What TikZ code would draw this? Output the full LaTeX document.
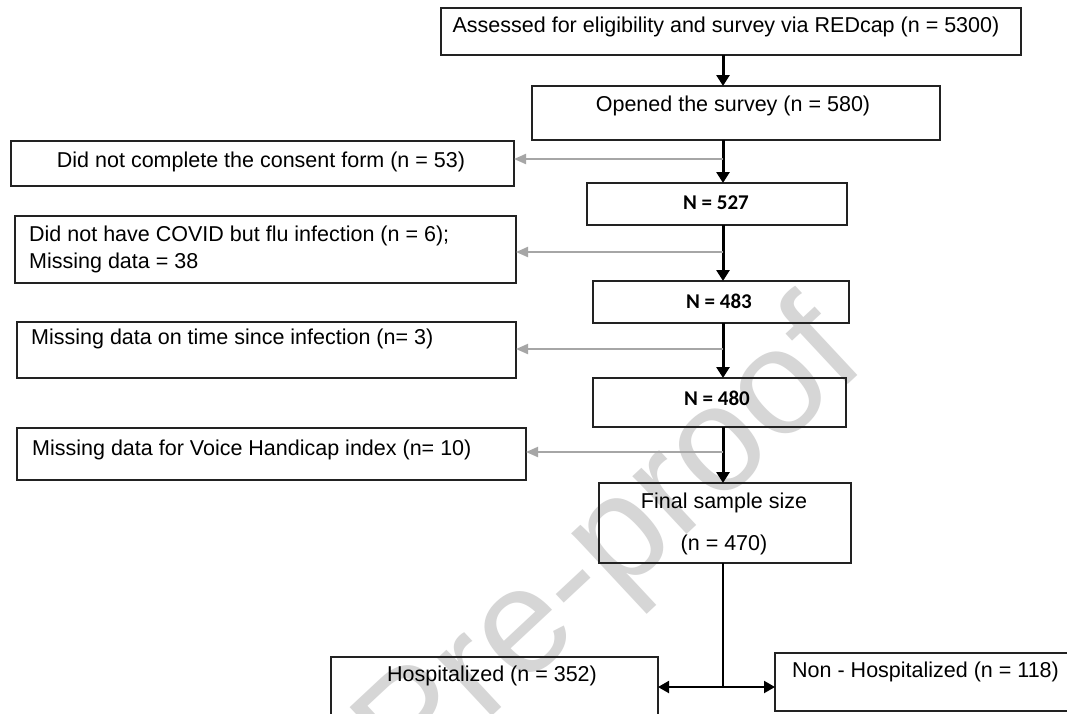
\documentclass[tikz,border=0pt]{standalone}
\usepackage{fontspec}
\setmainfont{Liberation Sans}
\newfontfamily\calib{Carlito}
\usetikzlibrary{arrows.meta}
\definecolor{boxline}{HTML}{222222}
\definecolor{grayarr}{HTML}{A6A6A6}
\definecolor{wmark}{HTML}{D6D6D6}
\begin{document}
\begin{tikzpicture}[x=1pt,y=-1pt,
  box/.style={draw=boxline, line width=1.5pt, anchor=north west, inner sep=0pt, outer sep=0pt},
  txt/.style={inner sep=0pt, font=\fontsize{21.5}{27}\selectfont},
  ntxt/.style={inner sep=0pt, font=\calib\bfseries\fontsize{21}{25}\selectfont},
  mainarrow/.style={line width=3pt, -{Triangle[width=13pt,length=11pt]}},
  sidearrow/.style={draw=grayarr, line width=2pt, -{Triangle[width=10pt,length=12pt]}},
  splitarrow/.style={line width=2pt, -{Triangle[width=12pt,length=11pt]}},
  splitline/.style={line width=1.5pt},
]
\clip (0,0) rectangle (1067,713);
\fill[white] (0,0) rectangle (1067,713);

% watermark (behind)
\node[font=\fontsize{150}{150}\selectfont, text=wmark, rotate=43, inner sep=0pt] (wm) at (614,550) {Pre-proof};

% boxes
\node[box, minimum width=580pt, minimum height=47pt] (b1) at (441,8) {};
\node[box, minimum width=408pt, minimum height=54pt] (b2) at (532,86) {};
\node[box, minimum width=503pt, minimum height=45pt] (c1) at (11,141) {};
\node[box, minimum width=260pt, minimum height=42pt] (n1) at (587,183) {};
\node[box, minimum width=501pt, minimum height=67pt] (c2) at (15,216) {};
\node[box, minimum width=256pt, minimum height=42pt] (n2) at (593,281) {};
\node[box, minimum width=499pt, minimum height=56pt] (c3) at (17,322) {};
\node[box, minimum width=253pt, minimum height=49pt] (n3) at (593,378) {};
\node[box, minimum width=509pt, minimum height=52pt] (c4) at (17,428) {};
\node[box, minimum width=252pt, minimum height=80pt] (fin) at (599,483) {};
\node[box, minimum width=327pt, minimum height=80pt] (hosp) at (331,657) {};
\node[box, minimum width=320pt, minimum height=58pt] (nonh) at (775,653) {};

% texts
\node[txt] (t1) at (726,27) {Assessed for eligibility and survey via REDcap (n = 5300)};
\node[txt] (t2) at (733,106) {Opened the survey (n = 580)};
\node[txt] (tc1) at (261,162) {Did not complete the consent form (n = 53)};
\node[ntxt] (tn1) at (716,203) {N = 527};
\node[txt, align=left, anchor=west] (tc2) at (29,249.5) {Did not have COVID but flu infection (n = 6);\\Missing data = 38};
\node[ntxt] (tn2) at (719,301) {N = 483};
\node[txt, anchor=west] (tc3) at (31,339) {Missing data on time since infection (n= 3)};
\node[ntxt] (tn3) at (717,398) {N = 480};
\node[txt, anchor=west] (tc4) at (32,450) {Missing data for Voice Handicap index (n= 10)};
\node[txt, align=center, font=\fontsize{21.5}{42}\selectfont] (tfin) at (724,524) {Final sample size\\(n = 470)};
\node[txt] (th) at (492,676) {Hospitalized (n = 352)};
\node[txt, anchor=west] (tnh) at (792,672) {Non - Hospitalized (n = 118)};

% spine
\coordinate (sp) at (723,0);
\coordinate (j1) at (723,159);
\coordinate (j2) at (723,252);
\coordinate (j3) at (723,349);
\coordinate (j4) at (723,452);
\coordinate (split) at (723,687);

\draw[mainarrow] (b1.south -| sp) -- (b2.north -| sp);
\draw[mainarrow] (b2.south -| sp) -- (n1.north -| sp);
\draw[mainarrow] (n1.south -| sp) -- (n2.north -| sp);
\draw[mainarrow] (n2.south -| sp) -- (n3.north -| sp);
\draw[mainarrow] (n3.south -| sp) -- (fin.north -| sp);

\draw[sidearrow] (j1) -- (j1 -| c1.east);
\draw[sidearrow] (j2) -- (j2 -| c2.east);
\draw[sidearrow] (j3) -- (j3 -| c3.east);
\draw[sidearrow] (j4) -- (j4 -| c4.east);

\draw[splitline] (fin.south -| sp) -- (split);
\draw[splitarrow] (split) -- (split -| hosp.east);
\draw[splitarrow] (split) -- (split -| nonh.west);
\end{tikzpicture}
\end{document}
